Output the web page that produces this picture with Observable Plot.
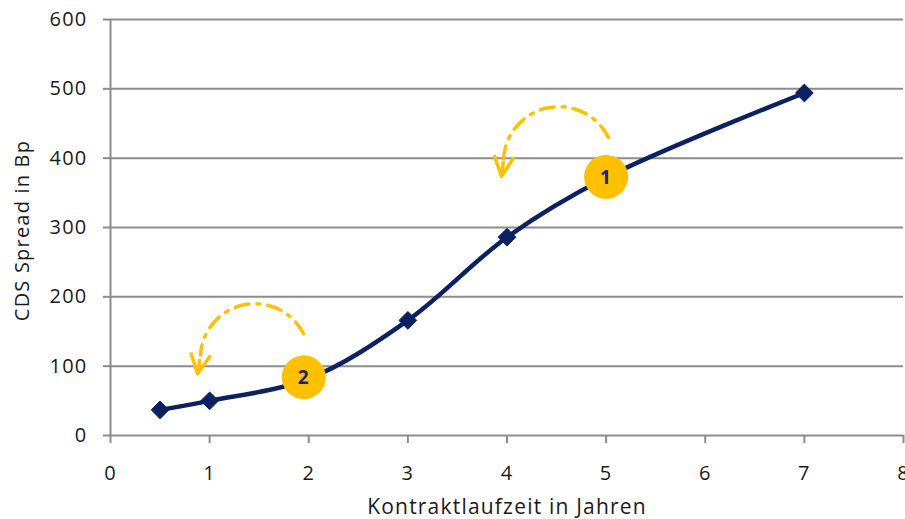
<!DOCTYPE html>
<html><head><meta charset="utf-8">
<script src="https://cdn.jsdelivr.net/npm/d3@7"></script>
<script src="https://cdn.jsdelivr.net/npm/@observablehq/plot@0.6"></script>
<style>body{margin:0;background:#fff;overflow:hidden;} #chart svg{overflow:visible;}</style>
</head><body><div id="chart"></div>
<script>
// Curve (Excel smoothed line) points
const laufzeit = [0.5, 1, 2, 3, 4, 5, 7];
const spread = [37, 50, 82, 166, 286, 372, 494];
// Points with diamond markers
const markerLaufzeit = [0.5, 1, 3, 4, 7];
const markerSpread = [37, 50, 166, 286, 494];
// Numbered badges
const badgeLabels = ["1", "2"];
const badgeX = [5.0, 1.95];
const badgeY = [373, 84];
// Dash-dot arcs (start -> end)
const arcX1 = [5.024, 1.947];
const arcY1 = [430, 147];
const arcX2 = [3.965, 0.908];
const arcY2 = [399, 116];
// Arrow heads (tip position and direction in degrees, clockwise from up)
const headX = [3.945, 0.878];
const headY = [374, 89];
const headAngle = [187, 189];
// Ticks
const xTicks = [0, 1, 2, 3, 4, 5, 6, 7, 8];
const yTicks = [0, 100, 200, 300, 400, 500, 600];

const navy = "#0b2161";
const gold = "#ffc000";
const grey = "#8c8c8c";
const ink = "#1a1a1a";

const line = laufzeit.map((x, i) => ({x, y: spread[i]}));
const markers = markerLaufzeit.map((x, i) => ({x, y: markerSpread[i]}));
const badges = badgeLabels.map((t, i) => ({t, x: badgeX[i], y: badgeY[i]}));
const arcs = arcX1.map((x1, i) => ({x1, y1: arcY1[i], x2: arcX2[i], y2: arcY2[i]}));
const heads = headX.map((x, i) => ({x, y: headY[i], a: headAngle[i]}));

// open chevron arrow head with a short shaft, pointing "up" from (0,0) to (0,-l)
const chevron = {
  draw(context, l) {
    const w = l * 0.5;
    context.moveTo(0, -l + l * 0.75);
    context.lineTo(0, -l + 2);
    context.moveTo(-w, 0);
    context.lineTo(0, -l);
    context.lineTo(w, 0);
  }
};

const font = "'Open Sans', sans-serif";

const chart = Plot.plot({
  width: 905,
  height: 519,
  marginLeft: 110,
  marginRight: 2,
  marginTop: 19,
  marginBottom: 84,
  style: {fontFamily: font, fontSize: "20px", color: ink, background: "#fff", letterSpacing: "1.2px"},
  x: {domain: [0, 8], ticks: xTicks, label: null},
  y: {domain: [0, 600], ticks: yTicks, label: null},
  marks: [
    Plot.gridY(yTicks.filter(d => d > 0), {stroke: grey, strokeOpacity: 1, strokeWidth: 2}),
    Plot.ruleX([0], {stroke: grey, strokeWidth: 2}),
    Plot.ruleY([0], {stroke: grey, strokeWidth: 2}),
    Plot.axisY(yTicks, {tickSize: 7, tickPadding: 16, stroke: grey, strokeWidth: 2, fontSize: 20, fill: ink, label: null}),
    Plot.axisX(xTicks, {tickSize: 8, tickPadding: 22, stroke: grey, strokeWidth: 2, fontSize: 20, fill: ink, label: null}),
    Plot.text(["CDS Spread in Bp"], {frameAnchor: "left", textAnchor: "middle", rotate: -90, dx: -88, dy: 3, fontSize: 20, fill: ink}),
    Plot.text(["Kontraktlaufzeit in Jahren"], {frameAnchor: "bottom", textAnchor: "middle", dy: 78, fontSize: 21, fill: ink}),
    Plot.arrow(arcs, {x1: "x1", y1: "y1", x2: "x2", y2: "y2", bend: -75, stroke: gold, strokeWidth: 3.5, headLength: 0, strokeDasharray: "14,8,3,8"}),
    Plot.vector(heads, {x: "x", y: "y", rotate: "a", length: 20, anchor: "end", shape: chevron, stroke: gold, strokeWidth: 3.5, strokeLinecap: "butt"}),
    Plot.line(line, {x: "x", y: "y", curve: "catmull-rom", stroke: navy, strokeWidth: 4.5}),
    Plot.dot(markers, {x: "x", y: "y", symbol: "diamond2", r: 8, fill: navy, stroke: navy, strokeWidth: 1}),
    Plot.dot(badges, {x: "x", y: "y", r: 22, fill: gold}),
    Plot.text(badges, {x: "x", y: "y", text: "t", fill: "#1c2566", fontSize: 19, fontWeight: "bold", dy: 1})
  ]
});
document.getElementById("chart").append(chart);
</script>
</body></html>
